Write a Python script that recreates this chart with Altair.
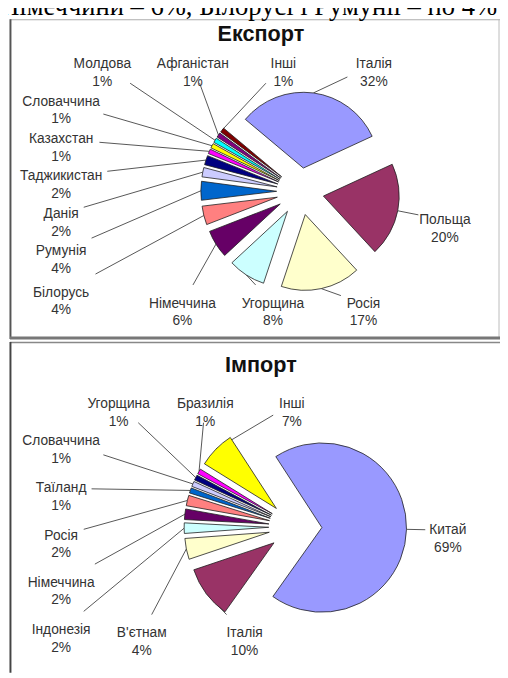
import math
import altair as alt
import pandas as pd

# ---------------- data ----------------
HEADER_TEXT = "Німеччини – 6%, Білорусі і Румунії – по 4%"

EXPORT_TITLE = "Експорт"
export_countries = ["Італія", "Польща", "Росія", "Угорщина", "Німеччина", "Білорусь",
                    "Румунія", "Данія", "Таджикистан", "Казахстан", "Словаччина",
                    "Молдова", "Афганістан", "Інші"]
export_share = [32, 20, 17, 8, 6, 4, 4, 2, 2, 1, 1, 1, 1, 1]

IMPORT_TITLE = "Імпорт"
import_countries = ["Китай", "Італія", "В'єтнам", "Індонезія", "Німеччина", "Росія",
                    "Таїланд", "Словаччина", "Угорщина", "Бразилія", "Інші"]
import_share = [69, 10, 4, 2, 2, 2, 1, 1, 1, 1, 7]

# ---------------- style ----------------
PALETTE = ["#9999FF", "#993366", "#FFFFCC", "#CCFFFF", "#660066", "#FF8080", "#0066CC",
           "#CCCCFF", "#000080", "#FF00FF", "#FFFF00", "#00FFFF", "#800080", "#800000"]
W, H = 500, 670
PAGE = 8
FONT = "Liberation Sans"
LABEL_FS = 14
LINE_H = 18
CHAR_W = 0.57  # average glyph width in em, used to size label boxes

# pie geometry and label-ring settings (page pixel coordinates)
EXPORT_GEOM = dict(cx=305, cy=189, R=77, E=24, start=-50,
                   origin=(330, 225), box=(62, 60, 452, 303), vsp=38, hsp=92)
IMPORT_GEOM = dict(cx=300, cy=530, R=86, E=27, start=-33,
                   origin=(340, 570), box=(62, 405, 455, 638), vsp=48, hsp=88)

XS = alt.Scale(domain=[PAGE, PAGE + W], range=[0, W], zero=False, nice=False)
YS = alt.Scale(domain=[PAGE + H, PAGE], range=[H, 0], zero=False, nice=False)
TS = alt.Scale(domain=[0, 360], range=[0, 2 * math.pi])


def label_half_size(lines):
    hw = max(len(t) for t in lines) * CHAR_W * LABEL_FS / 2
    hh = LINE_H * len(lines) / 2
    return hw, hh


def layout_labels(mids, sizes, g):
    """Put each label where its slice's ray meets a rectangle around the pie,
    then spread the labels along that rectangle until none overlap."""
    x0, y0, x1, y1 = g["box"]
    vsp, hsp = g["vsp"], g["hsp"]
    Lt = (x1 - x0) / hsp
    Lr = (y1 - y0) / vsp
    P = 2 * (Lt + Lr)

    def ray_hit(a, ox, oy):
        dx, dy = math.sin(a), -math.cos(a)
        ts = []
        if dx > 1e-9:
            ts.append((x1 - ox) / dx)
        if dx < -1e-9:
            ts.append((x0 - ox) / dx)
        if dy > 1e-9:
            ts.append((y1 - oy) / dy)
        if dy < -1e-9:
            ts.append((y0 - oy) / dy)
        t = min(ts)
        return ox + t * dx, oy + t * dy

    def to_s(x, y):
        eps = 0.5
        if abs(y - y0) < eps:
            return (x - x0) / hsp
        if abs(x - x1) < eps:
            return Lt + (y - y0) / vsp
        if abs(y - y1) < eps:
            return Lt + Lr + (x1 - x) / hsp
        return 2 * Lt + Lr + (y1 - y) / vsp

    def from_s(s):
        s = s % P
        if s < Lt:
            return x0 + s * hsp, y0
        s -= Lt
        if s < Lr:
            return x1, y0 + s * vsp
        s -= Lr
        if s < Lt:
            return x1 - s * hsp, y1
        s -= Lt
        return x0, y1 - s * vsp

    base = []
    prev = None
    for m in mids:
        a = math.radians(m)
        x, y = ray_hit(a, *g["origin"])
        if abs(x - x1) < 0.5:  # right-hand labels follow the slice from the pie centre
            x, y = ray_hit(a, g["cx"], g["cy"])
        s = to_s(x, y)
        if prev is not None:
            while s < prev:
                s += P
        base.append(s)
        prev = s
    n = len(base)
    gaps = [1.0] * n

    def relax():
        ss = list(base)
        for _ in range(3000):
            for i in range(n):
                j = (i + 1) % n
                sj = ss[j] + (P if j == 0 else 0)
                gap = sj - ss[i]
                if gap < gaps[i]:
                    d = (gaps[i] - gap) / 2 + 1e-6
                    ss[i] -= d
                    ss[j] += d
        return ss

    for _ in range(40):
        ss = relax()
        pos = [from_s(s) for s in ss]
        clash = False
        for i in range(n):
            j = (i + 1) % n
            (xa, ya), (xb, yb) = pos[i], pos[j]
            (wa, ha), (wb, hb) = sizes[i], sizes[j]
            if abs(xa - xb) < wa + wb + 2 and abs(ya - yb) < ha + hb:
                gaps[i] += 0.15
                clash = True
        if not clash:
            break
    return pos


def build_pie(countries, shares, g):
    total = sum(shares)
    start = g["start"] % 360
    cx, cy, R, E = g["cx"], g["cy"], g["R"], g["E"]
    rows, mids, sizes, texts = [], [], [], []
    cum = 0.0
    for i, (c, s) in enumerate(zip(countries, shares)):
        a0 = start + cum / total * 360
        cum += s
        a1 = start + cum / total * 360
        m = (a0 + a1) / 2
        mids.append(m)
        mr = math.radians(m)
        rows.append({"country": c, "a0": a0, "a1": a1,
                     "cx": cx + E * math.sin(mr), "cy": cy - E * math.cos(mr),
                     "color": PALETTE[i]})
        lines = [c, f"{s}%"]
        texts.append(lines)
        sizes.append(label_half_size(lines))
    pos = layout_labels(mids, sizes, g)
    labels, leaders = [], []
    for i in range(len(countries)):
        lx, ly = pos[i]
        labels.append({"lx": lx, "ly": ly, "text": "\n".join(texts[i])})
        mr = math.radians(mids[i])
        ax = cx + (E + R) * math.sin(mr)
        ay = cy - (E + R) * math.cos(mr)
        hw, hh = sizes[i]
        hw += 3
        hh += 1
        dx, dy = ax - lx, ay - ly
        tx = hw / abs(dx) if abs(dx) > 1e-9 else float("inf")
        ty = hh / abs(dy) if abs(dy) > 1e-9 else float("inf")
        t = min(tx, ty)
        if t < 1:
            leaders.append({"x": lx + t * dx, "y": ly + t * dy, "x2": ax, "y2": ay})

    slices = alt.Chart(pd.DataFrame(rows)).mark_arc(
        outerRadius=R, stroke="#1f1f1f", strokeWidth=0.8
    ).encode(
        x=alt.X("cx:Q", scale=XS, axis=None),
        y=alt.Y("cy:Q", scale=YS, axis=None),
        theta=alt.Theta("a0:Q", scale=TS, stack=False),
        theta2="a1:Q",
        color=alt.Color("color:N", scale=None),
    )
    lines = alt.Chart(pd.DataFrame(leaders)).mark_rule(
        color="#555555", strokeWidth=1
    ).encode(
        x=alt.X("x:Q", scale=XS, axis=None),
        y=alt.Y("y:Q", scale=YS, axis=None),
        x2="x2:Q",
        y2="y2:Q",
    )
    labels_layer = alt.Chart(pd.DataFrame(labels)).mark_text(
        font=FONT, fontSize=LABEL_FS, lineBreak="\n", lineHeight=LINE_H,
        color="#333333", align="center", baseline="middle"
    ).encode(
        x=alt.X("lx:Q", scale=XS, axis=None),
        y=alt.Y("ly:Q", scale=YS, axis=None),
        text="text:N",
    )
    return [lines, slices, labels_layer]


def text_layer(txt, x, y, **kw):
    return alt.Chart(pd.DataFrame({"t": [txt]})).mark_text(**kw).encode(
        text="t:N", x=alt.value(x), y=alt.value(y))


def rule_layer(color, width, **enc):
    return alt.Chart(pd.DataFrame({"k": [0]})).mark_rule(
        color=color, strokeWidth=width).encode(**{k: alt.value(v) for k, v in enc.items()})


layers = []
# panel frames
layers.append(rule_layer("#aaaaaa", 1, x=2, x2=500, y=6.5))
layers.append(rule_layer("#bbbbbb", 1, x=499, y=6, y2=331))
layers.append(rule_layer("#555555", 2, x=2.5, y=6, y2=331))
layers.append(rule_layer("#777777", 3, x=2, x2=500, y=330))
layers.append(rule_layer("#888888", 1.5, x=2, x2=500, y=334.5))
layers.append(rule_layer("#444444", 2, x=2.5, y=334, y2=670))

layers.append(text_layer(HEADER_TEXT, -8, 2, font="Liberation Serif", fontSize=27,
                         align="left", baseline="alphabetic", color="#000000"))
layers.append(text_layer(EXPORT_TITLE, 257, 21, font=FONT, fontSize=22, fontWeight="bold",
                         align="center", baseline="middle", color="#111111"))
layers.append(text_layer(IMPORT_TITLE, 257, 357, font=FONT, fontSize=22, fontWeight="bold",
                         align="center", baseline="middle", color="#111111"))

layers += build_pie(export_countries, export_share, EXPORT_GEOM)
layers += build_pie(import_countries, import_share, IMPORT_GEOM)

chart = alt.layer(*layers).properties(
    width=W, height=H, padding=0,
    autosize=alt.AutoSizeParams(type="none"),
).configure_view(stroke=None)

chart.save("out.html", embed_options={"renderer": "svg", "actions": False})
